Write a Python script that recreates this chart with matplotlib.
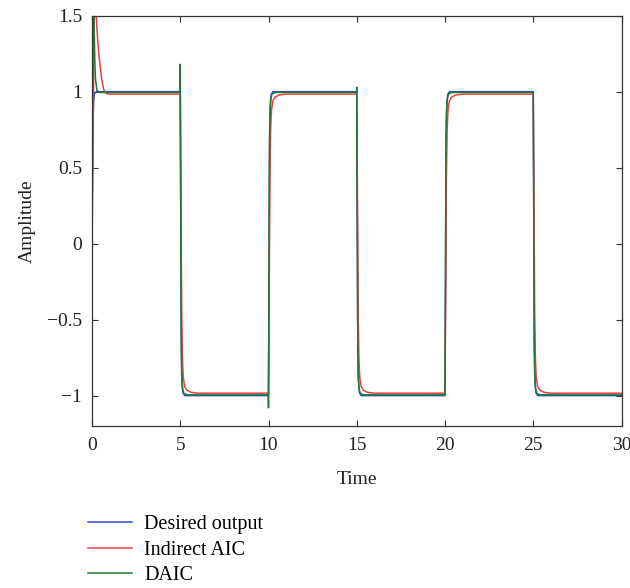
import matplotlib
matplotlib.use("Agg")
import matplotlib.pyplot as plt

# ---- data ----
t_desired = [0, 0.03, 0.06, 0.1, 0.15, 0.25,
             5.0, 5.03, 5.06, 5.1, 5.15, 5.25,
             10.0, 10.03, 10.06, 10.1, 10.15, 10.25,
             15.0, 15.03, 15.06, 15.1, 15.15, 15.25,
             20.0, 20.03, 20.06, 20.1, 20.15, 20.25,
             25.0, 25.03, 25.06, 25.1, 25.15, 25.25, 30.0]
y_desired = [0, 0.6, 0.85, 0.95, 0.99, 1.0,
             1.0, 0.2, -0.7, -0.9, -0.98, -1.0,
             -1.0, -0.2, 0.7, 0.9, 0.98, 1.0,
             1.0, 0.2, -0.7, -0.9, -0.98, -1.0,
             -1.0, -0.2, 0.7, 0.9, 0.98, 1.0,
             1.0, 0.2, -0.7, -0.9, -0.98, -1.0, -1.0]

t_indirect = [0, 0.05, 0.1, 0.13, 0.17, 0.2, 0.24, 0.3, 0.35, 0.4, 0.47, 0.55, 0.65, 0.75, 0.9,
              5.0, 5.04, 5.08, 5.12, 5.17, 5.25, 5.38, 5.6, 6.0,
              10.0, 10.04, 10.08, 10.12, 10.17, 10.25, 10.38, 10.6, 11.0,
              15.0, 15.04, 15.08, 15.12, 15.17, 15.25, 15.38, 15.6, 16.0,
              20.0, 20.04, 20.08, 20.12, 20.17, 20.25, 20.38, 20.6, 21.0,
              25.0, 25.04, 25.08, 25.12, 25.17, 25.25, 25.38, 25.6, 26.0, 30.0]
y_indirect = [0, 0.5, 1.2, 1.5, 1.75, 1.72, 1.5, 1.38, 1.3, 1.23, 1.16, 1.08, 1.02, 0.995, 0.984,
              0.984, 0.3, -0.45, -0.75, -0.88, -0.94, -0.965, -0.978, -0.984,
              -0.984, -0.3, 0.45, 0.75, 0.88, 0.94, 0.965, 0.978, 0.984,
              0.984, 0.3, -0.45, -0.75, -0.88, -0.94, -0.965, -0.978, -0.984,
              -0.984, -0.3, 0.45, 0.75, 0.88, 0.94, 0.965, 0.978, 0.984,
              0.984, 0.3, -0.45, -0.75, -0.88, -0.94, -0.965, -0.978, -0.984, -0.984]

t_daic = [0, 0.03, 0.06, 0.09, 0.12, 0.16, 0.2, 0.28, 0.4,
          4.99, 5.0, 5.02, 5.05, 5.08, 5.12, 5.2, 5.4,
          9.99, 10.0, 10.02, 10.05, 10.08, 10.12, 10.2, 10.4,
          14.99, 15.0, 15.02, 15.05, 15.08, 15.12, 15.2, 15.4,
          20.0, 20.02, 20.05, 20.08, 20.12, 20.2, 20.4,
          25.0, 25.02, 25.05, 25.08, 25.12, 25.2, 25.4, 30.0]
y_daic = [0, 0.9, 1.6, 1.7, 1.45, 1.2, 1.08, 1.01, 0.995,
          0.995, 1.18, 0.4, -0.5, -0.85, -0.95, -0.985, -0.995,
          -0.995, -1.08, -0.4, 0.5, 0.85, 0.95, 0.985, 0.995,
          0.995, 1.03, 0.4, -0.5, -0.85, -0.95, -0.985, -0.995,
          -0.995, -0.4, 0.5, 0.85, 0.95, 0.985, 0.995,
          0.995, 0.4, -0.5, -0.85, -0.95, -0.985, -0.995, -0.995]

series_labels = ["Desired output", "Indirect AIC", "DAIC"]
x_ticks = [0, 5, 10, 15, 20, 25, 30]
y_ticks = [-1, -0.5, 0, 0.5, 1, 1.5]
y_ticklabels = ["\u22121", "\u22120.5", "0", "0.5", "1", "1.5"]

plt.rcParams['font.family'] = ['Liberation Serif', 'DejaVu Serif']

fig = plt.figure(figsize=(6.3, 5.88), dpi=100)
ax = fig.add_axes([92/630, 1-426/588, (621.5-92)/630, (426-15.7)/588])

l1, = ax.plot(t_desired, y_desired, color='#2a4cc4', lw=1.1, label=series_labels[0])
l2, = ax.plot(t_indirect, y_indirect, color='#e8403c', lw=1.1, label=series_labels[1])
l3, = ax.plot(t_daic, y_daic, color='#1f7a38', lw=1.1, label=series_labels[2])

ax.set_xlim(0, 30)
ax.set_ylim(-1.2, 1.5)
ax.set_xticks(x_ticks)
ax.set_yticks(y_ticks)
ax.set_yticklabels(y_ticklabels)
ax.tick_params(direction='in', top=True, right=True, length=4, width=0.8,
               colors='#333333', labelcolor='#222222', labelsize=14)
ax.tick_params(axis='y', pad=7)
ax.tick_params(axis='x', pad=8)
for s in ax.spines.values():
    s.set_color('#333333')
    s.set_linewidth(0.9)
ax.set_xlabel("Time", fontsize=14, color='#222222', labelpad=12)
ax.set_ylabel("Amplitude", fontsize=14, color='#222222', labelpad=8)

fig.legend(handles=[l1, l2, l3], loc='upper left', bbox_to_anchor=(88/630, 1-515/588),
           frameon=False, fontsize=14.5, handlelength=2.2, handletextpad=0.6,
           labelspacing=0.32, borderaxespad=0, borderpad=0)

fig.savefig("out.png", dpi=100)
